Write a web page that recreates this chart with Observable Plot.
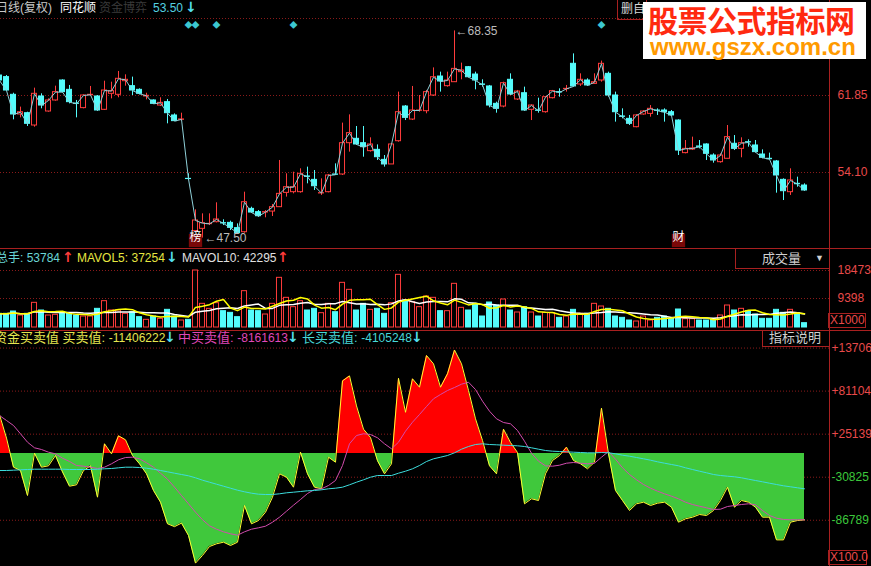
<!DOCTYPE html>
<html><head><meta charset="utf-8">
<script src="https://cdn.jsdelivr.net/npm/d3@7"></script>
<script src="https://cdn.jsdelivr.net/npm/@observablehq/plot@0.6"></script>
<style>
html,body{margin:0;padding:0;background:#000;}
#wrap{position:relative;width:871px;height:566px;overflow:hidden;background:#000;font-family:"Liberation Sans","Noto Sans CJK SC",Arial,sans-serif;}
#wrap svg{position:absolute;left:0;}
.t{position:absolute;white-space:nowrap;font-size:12px;line-height:16px;font-family:"Liberation Sans","Noto Sans CJK SC",sans-serif;}
.cj{font-size:13px;}
.ar{font-size:14px;font-weight:bold;font-family:"DejaVu Sans",sans-serif;line-height:16px;}
.box{position:absolute;border:1px solid #a82020;box-sizing:border-box;}
.ln{position:absolute;background:#a82020;}
</style></head><body><div id="wrap"></div>
<script>
// ---------- candle data (index k = trading day, left to right) ----------
const opens = [
63.86,63.70,61.92,59.94,60.07,58.83,61.75,60.24,61.35,63.36,
62.42,61.04,60.58,61.88,61.75,60.41,62.02,61.92,63.29,62.79,
62.42,61.75,61.35,60.84,61.18,59.84,59.40,53.46,48.20,48.43,
48.90,49.10,49.00,49.03,48.50,48.09,50.44,50.11,50.07,50.17,
50.61,52.05,52.12,52.12,53.70,53.36,51.99,52.12,53.90,53.90,
57.05,57.49,57.05,56.25,56.38,55.37,54.91,57.25,60.74,59.43,
60.31,60.27,61.85,63.76,62.79,63.19,64.20,64.70,63.96,62.96,
62.76,61.01,60.74,63.43,61.45,62.08,60.41,60.34,60.17,61.58,
62.19,62.49,65.04,62.96,63.36,63.02,63.36,64.03,61.85,59.74,
59.50,58.66,59.94,60.00,60.34,60.34,60.17,59.33,56.05,56.41,
56.72,56.92,55.81,55.14,55.48,56.99,56.48,57.15,56.82,55.91,
55.48,55.21,53.36,52.12,52.96,52.79];
const highs = [
64.03,63.86,62.08,60.68,60.17,62.59,62.02,61.51,62.79,63.43,
62.86,61.35,61.92,62.76,61.85,63.29,63.19,64.27,63.93,63.70,
62.52,62.08,61.41,61.62,61.45,60.00,60.07,53.97,50.34,49.94,
49.94,51.05,49.34,49.20,48.93,52.12,50.61,50.27,50.27,50.88,
55.31,53.97,54.13,54.47,54.64,54.30,53.46,53.90,54.97,59.07,
59.90,58.73,58.73,57.59,56.88,55.81,56.98,62.19,60.84,62.76,
61.85,62.36,64.63,64.20,64.20,68.35,65.11,64.77,64.20,63.43,
62.86,61.18,63.19,64.03,62.36,62.69,60.91,61.58,61.75,62.36,
62.52,62.86,66.04,64.03,63.53,64.03,65.31,64.20,62.19,60.51,
59.84,59.94,60.34,60.84,60.51,60.51,60.34,59.40,57.32,57.66,
57.32,56.99,55.98,55.98,58.83,57.82,57.59,57.39,57.32,56.38,
56.05,55.31,53.46,54.47,53.63,52.96];
const lows = [
63.19,62.29,59.40,59.60,58.73,58.66,60.51,60.17,61.28,62.12,
61.01,59.60,60.51,61.82,60.24,60.34,61.51,61.62,62.79,61.85,
61.92,61.41,60.94,60.74,59.00,59.23,59.27,53.30,48.09,47.50,
48.76,49.03,48.76,48.26,47.93,47.99,50.00,49.60,49.54,49.67,
50.61,51.62,51.95,52.02,52.96,52.29,51.79,52.05,53.80,53.80,
56.15,56.82,55.64,56.15,55.31,54.64,54.91,57.15,59.33,59.33,
60.17,60.01,61.75,62.19,62.69,63.16,63.43,63.63,62.42,62.69,
60.61,60.07,60.61,61.85,61.35,60.27,59.33,60.07,60.07,61.51,
61.68,62.19,62.69,62.76,62.76,62.96,63.19,61.68,59.17,59.50,
58.83,58.60,59.87,59.67,59.84,59.17,59.74,55.81,55.98,56.31,
56.48,55.31,55.04,55.04,55.48,56.31,55.58,56.65,56.05,55.48,
55.37,52.02,51.28,51.79,52.62,52.22];
const closes = [
63.36,62.35,59.94,60.17,59.00,62.02,60.84,61.35,62.19,62.19,
61.18,61.01,61.85,61.92,60.34,62.35,62.29,63.53,63.43,62.35,
62.02,61.82,61.01,61.11,60.07,59.27,59.44,53.44,49.27,49.00,
48.93,49.37,48.97,48.53,47.99,51.11,50.07,49.70,50.11,50.61,
51.95,52.62,52.62,53.97,53.66,52.72,52.02,53.80,53.87,57.05,
58.06,56.92,56.65,56.92,55.64,54.91,56.92,60.17,59.60,60.34,
60.34,62.19,63.69,63.26,63.36,64.53,64.37,63.69,63.36,62.92,
60.84,60.51,63.09,61.95,62.25,60.34,60.84,60.31,61.68,62.29,
62.15,62.52,62.76,63.43,62.86,63.19,65.04,61.85,60.17,59.70,
59.00,59.84,60.24,60.51,60.31,60.17,59.84,56.31,56.48,56.52,
56.68,55.98,55.31,55.81,57.66,56.48,57.05,57.12,56.15,55.58,
55.44,53.80,52.22,53.30,52.92,52.29];
// volume, thousands of shares (X1000)
const volumes = [
4429,4429,5186,3889,4429,7994,5510,3889,4105,4969,
4429,3889,3565,3565,6050,8534,5510,5510,4429,4969,
3349,2485,3565,2809,5726,3565,2269,2485,18473,7670,
6050,7886,5293,4753,3349,11775,5510,5293,4213,7670,
16096,9615,6590,8534,5510,6050,4645,7670,4969,14476,
12207,5510,7670,5726,6050,4429,7886,17069,8750,8210,
6590,10047,9615,5293,5293,14152,6374,5510,7670,3565,
8102,7130,9075,5510,4861,6590,4861,3565,4753,4645,
3133,3565,5726,4429,4429,7670,6806,6050,3565,3133,
2269,1945,3565,2269,3133,3565,2809,5834,2701,2701,
2269,2269,2593,3889,7130,5510,6050,5293,4213,2809,
2809,5726,4753,5726,4645,1404];
// 资金买卖值 indicator, thousands of axis units
const flowK = [
50.3,20.0,-17.8,-22.1,-54.6,0.4,-17.8,-16.0,-2.6,-24.0,
-42.5,-40.7,-22.1,-16.0,-56.8,12.6,-0.4,23.0,17.8,-2.6,
-13.4,-26.4,-48.1,-63.3,-91.4,-95.1,-90.5,-106.6,-142.5,-132.5,
-120.9,-117.4,-115.3,-119.6,-115.3,-67.6,-91.4,-87.1,-76.3,-56.8,
-26.4,-30.8,-43.8,1.7,-26.4,-43.8,-45.9,-4.8,-11.3,94.4,
100.9,61.9,31.6,20.8,-9.5,-26.4,-13.4,97.8,53.6,97.1,
86.2,127.4,116.6,86.2,103.6,134.5,116.6,81.9,45.1,16.9,
-16.0,-26.4,31.6,14.3,1.3,-65.4,-58.9,-61.1,-26.4,-9.1,
-2.6,8.2,-9.1,-13.4,-19.9,-11.3,58.9,-0.4,-48.1,-61.1,
-74.1,-65.4,-63.3,-67.6,-64.6,-63.3,-69.8,-89.3,-84.9,-82.8,
-79.3,-80.6,-74.1,-61.1,-43.8,-69.8,-61.1,-63.3,-69.8,-82.8,
-82.8,-112.3,-112.3,-89.3,-87.1,-86.2];
const midK = [
49.4,42.9,36.4,25.6,14.7,7.4,5.2,1.7,-0.4,-6.1,
-10.4,-15.6,-16.5,-17.8,-19.5,-17.8,-13.4,-8.2,-5.2,-4.8,
-6.9,-12.1,-17.8,-25.6,-33.4,-43.8,-54.6,-65.4,-76.3,-86.2,
-94.0,-98.4,-101.8,-104.4,-106.2,-101.8,-98.4,-96.6,-94.5,-89.3,
-82.8,-75.0,-67.2,-59.8,-52.0,-46.8,-45.9,-41.6,-35.1,-15.6,
12.6,23.4,25.6,24.7,20.4,12.6,6.1,14.7,29.0,40.7,
50.7,61.1,71.1,76.7,81.9,85.8,90.1,92.7,83.2,68.0,
55.0,45.1,40.3,38.6,29.9,16.0,0.4,-10.0,-16.0,-16.5,
-15.2,-12.6,-11.7,-12.6,-13.4,-12.6,-4.8,2.6,-7.4,-18.6,
-27.3,-34.2,-40.3,-45.1,-49.0,-52.4,-55.5,-58.9,-63.3,-66.3,
-68.5,-70.6,-72.8,-72.4,-68.9,-67.6,-66.3,-65.4,-66.7,-74.1,
-80.6,-84.1,-85.8,-86.2,-86.2,-86.2];
const longK = [
-22.1,-22.1,-21.7,-21.2,-20.8,-20.4,-20.4,-20.4,-20.4,-20.4,
-20.8,-20.8,-20.8,-20.8,-20.4,-19.9,-19.5,-18.6,-17.8,-17.8,
-18.2,-19.1,-20.4,-22.1,-23.8,-25.6,-27.3,-29.0,-31.6,-34.7,
-37.3,-39.9,-42.5,-45.1,-47.7,-49.8,-51.6,-52.9,-53.3,-53.3,
-52.4,-51.1,-50.3,-49.4,-48.5,-48.1,-47.2,-45.9,-45.1,-43.8,
-40.7,-37.3,-34.2,-30.8,-28.6,-28.6,-28.6,-25.6,-23.0,-19.9,
-15.6,-10.4,-6.9,-4.8,-2.6,0.9,5.6,9.1,11.7,12.6,
11.7,11.3,10.8,10.4,10.0,9.1,7.4,5.6,3.9,3.0,
2.6,2.2,1.7,1.3,0.9,0.9,1.3,0.9,-0.4,-2.2,
-3.5,-5.2,-6.9,-8.7,-10.8,-12.6,-14.3,-16.0,-18.6,-20.8,
-23.0,-25.1,-27.3,-28.6,-29.5,-30.3,-31.6,-33.4,-35.1,-36.8,
-38.6,-40.3,-42.0,-43.3,-44.6,-45.9];
// axis ticks and labels (the top price gridline has no visible label: it sits under the watermark)
const priceTicks = [69.60, 61.85, 54.10];
const priceTickLabels = ["", "61.85", "54.10"];
const volTicks = [18473, 9398];
const volTickLabels = ["18473", "9398"];
const flowTicks = [137068, 81104, 25139, -30825, -86789];
const flowTickLabels = ["+13706", "+81104", "+25139", "-30825", "-86789"];
// event markers (day index)
const diamondDays = [27, 28, 31, 42, 86];
const tagDays = [28, 97];
const tagLabels = ["榜", "财"];

// ---------- build ----------
const RED = "#ff3c3c", CYAN = "#54fcfc", GRID = "#8a1a1a", LBL = "#e84a4a", LGREEN = "#3cc83c";
const FONT = "Liberation Sans, Noto Sans CJK SC, sans-serif";
const candles = opens.map((o, k) => ({k, open: o, high: highs[k], low: lows[k], close: closes[k], vol: volumes[k], up: closes[k] >= o}));
const ups = candles.filter(d => d.up), downs = candles.filter(d => !d.up);
const hw = 0.36;
const lowest = d3.least(candles, d => d.low);
const highest = d3.greatest(candles, d => d.high);
const tags = tagDays.map((k, i) => ({k, label: tagLabels[i]}));
const priceLabelled = priceTicks.map((v, i) => ({v, s: priceTickLabels[i]})).filter(d => d.s);
const xDomain = [1 / 7, 830 / 7];

function panel(height, yDomain, marks) {
  return Plot.plot({
    width: 871, height, marginLeft: 0, marginRight: 42, marginTop: 0, marginBottom: 0,
    x: {type: "linear", domain: xDomain, axis: null},
    y: {type: "linear", domain: yDomain, axis: null},
    style: {background: "#000", color: "#fff", fontFamily: FONT, overflow: "visible"},
    marks
  });
}

const p1 = panel(248, [46.4507, 71.4117], [
  Plot.ruleY(priceTicks, {stroke: GRID, strokeDasharray: "1,2"}),
  Plot.ruleX(ups, {x: "k", y1: "low", y2: "high", stroke: RED, clip: true}),
  Plot.ruleX(downs, {x: "k", y1: "low", y2: "high", stroke: CYAN, clip: true}),
  Plot.rect(ups, {x1: d => d.k - hw, x2: d => d.k + hw, y1: "open", y2: "close", fill: "#000", stroke: RED, clip: true}),
  Plot.rect(downs, {x1: d => d.k - hw, x2: d => d.k + hw, y1: "open", y2: "close", fill: CYAN, stroke: CYAN, clip: true}),
  Plot.line(candles, {x: "k", y: "close", stroke: "#8fd0d8", strokeWidth: 1, clip: true}),
  Plot.text(priceLabelled, {y: "v", text: "s", frameAnchor: "right", dx: 8, textAnchor: "start", fill: LBL, fontSize: 12}),
  Plot.text([lowest], {x: "k", y: "low", text: d => "←" + d.low.toFixed(2), dx: 2, textAnchor: "start", fill: "#bcbcbc", fontSize: 12}),
  Plot.text([highest], {x: "k", y: "high", text: d => "←" + d.high.toFixed(2), dx: 1, textAnchor: "start", fill: "#bcbcbc", fontSize: 12}),
  Plot.dot(tags, {x: "k", frameAnchor: "bottom", dy: -8, symbol: "square", r: 7.5, fill: "#7a0808"}),
  Plot.text(tags, {x: "k", text: "label", frameAnchor: "bottom", dy: -8, fill: "#fff", fontSize: 12}),
  Plot.text(diamondDays, {x: d => d, text: () => "◆", frameAnchor: "top", dy: 22, fill: "#3cc8d0", fontSize: 8})
]);

const p2 = panel(82, [-972, 25604], [
  Plot.ruleY(volTicks, {stroke: GRID, strokeDasharray: "1,2"}),
  Plot.rect(ups, {x1: d => d.k - hw, x2: d => d.k + hw, y1: 0, y2: "vol", fill: "#000", stroke: RED, clip: true}),
  Plot.rect(downs, {x1: d => d.k - hw, x2: d => d.k + hw, y1: 0, y2: "vol", fill: CYAN, stroke: CYAN, clip: true}),
  Plot.lineY(candles, Plot.windowY({k: 10, anchor: "end"}, {x: "k", y: "vol", stroke: "#ffffff", clip: true})),
  Plot.lineY(candles, Plot.windowY({k: 5, anchor: "end"}, {x: "k", y: "vol", stroke: "#ffff00", clip: true})),
  Plot.text(volTicks, {y: d => d, text: (d, i) => volTickLabels[i], frameAnchor: "right", dx: 8, textAnchor: "start", fill: LBL, fontSize: 12})
]);

const flow = flowK.map((v, k) => ({k, v: v * 1000}));
const mid = midK.map((v, k) => ({k, v: v * 1000}));
const long = longK.map((v, k) => ({k, v: v * 1000}));
const flowPts = [];
flow.forEach((a, i) => {
  flowPts.push(a);
  const b = flow[i + 1];
  if (b && ((a.v > 0 && b.v < 0) || (a.v < 0 && b.v > 0))) {
    const t = a.v / (a.v - b.v);
    flowPts.push({k: a.k + t * (b.k - a.k), v: 0});
  }
});

const p3 = panel(236, [-146900, 159900], [
  Plot.ruleY(flowTicks, {stroke: GRID, strokeDasharray: "1,2"}),
  Plot.areaY(flowPts, {x: "k", y1: 0, y2: d => Math.max(0, d.v), fill: "#ff0000", clip: true}),
  Plot.areaY(flowPts, {x: "k", y1: 0, y2: d => Math.min(0, d.v), fill: "#40c83c", clip: true}),
  Plot.line(flow, {x: "k", y: "v", stroke: "#ffff30", strokeWidth: 1, clip: true}),
  Plot.line(mid, {x: "k", y: "v", stroke: "#d24cae", strokeWidth: 1, clip: true}),
  Plot.line(long, {x: "k", y: "v", stroke: "#3cdcdc", strokeWidth: 1, clip: true}),
  Plot.text(flowTicks, {y: d => d, text: (d, i) => flowTickLabels[i], frameAnchor: "right", dx: 2, textAnchor: "start", fill: d => d < 0 ? LGREEN : LBL, fontSize: 12})
]);

const wrap = document.getElementById("wrap");
p1.style.top = "0px"; p2.style.top = "248px"; p3.style.top = "330px";
wrap.append(p1, p2, p3);

const overlay = `
<div class="ln" style="left:0;top:248px;width:871px;height:1px"></div>
<div class="ln" style="left:0;top:330px;width:871px;height:1px"></div>
<div class="ln" style="left:829px;top:0;width:1px;height:566px"></div>
<span class="t" style="left:-4px;top:0px;color:#c8c8c8;font-size:12px">日线(复权)</span>
<span class="t" style="left:60px;top:0px;color:#ffffff;font-size:12px">同花顺</span>
<span class="t" style="left:99px;top:0px;color:#3a3a3a;font-size:12px">资金博弈</span>
<span class="t" style="left:153px;top:0px;color:#54d0e0">53.50</span>
<span class="t ar" style="left:185px;top:-1px;color:#54e0f0">↓</span>
<div class="box" style="left:617px;top:-1px;width:30px;height:21px"></div>
<span class="t" style="left:621px;top:1px;color:#d8d8d8;font-size:12px">删自</span>
<div style="position:absolute;left:643px;top:2px;width:223px;height:57px;background:#fff"></div>
<span class="t" style="left:648px;top:3px;font-size:30px;line-height:32px;font-weight:bold;color:#ff2a10;font-family:'Noto Sans CJK SC',sans-serif;letter-spacing:-0.5px">股票公式指标网</span>
<span class="t" style="left:650px;top:36px;font-size:24px;line-height:22px;font-weight:bold;color:#ff9a00">www.gszx.com.cn</span>
<span class="t" style="left:-4px;top:250px;color:#6ad6d6">总手: 53784</span>
<span class="t ar" style="left:62px;top:249px;color:#ff3c3c">↑</span>
<span class="t" style="left:77px;top:250px;color:#e6e640">MAVOL5: 37254</span>
<span class="t ar" style="left:166px;top:249px;color:#54e0f0">↓</span>
<span class="t" style="left:182px;top:250px;color:#e0e0e0">MAVOL10: 42295</span>
<span class="t ar" style="left:277px;top:249px;color:#ff3c3c">↑</span>
<div class="box" style="left:735px;top:248px;width:95px;height:21px;border-top:none;border-right:none"></div>
<span class="t cj" style="left:762px;top:251px;color:#d0d0d0">成交量</span>
<span class="t" style="left:815px;top:250px;color:#d0d0d0;font-size:9px">▼</span>
<div class="box" style="left:828px;top:313px;width:38px;height:15px"></div>
<span class="t" style="left:830px;top:312px;color:#e84a4a">X1000</span>
<span class="t cj" style="left:-6px;top:330px;color:#e6e650">资金买卖值 买卖值: <span style="font-size:12px">-11406222</span></span>
<span class="t ar" style="left:164px;top:329px;color:#54e0f0">↓</span>
<span class="t cj" style="left:178px;top:330px;color:#e048b8">中买卖值: <span style="font-size:12px">-8161613</span></span>
<span class="t ar" style="left:287px;top:329px;color:#54e0f0">↓</span>
<span class="t cj" style="left:302px;top:330px;color:#48d8d8">长买卖值: <span style="font-size:12px">-4105248</span></span>
<span class="t ar" style="left:411px;top:329px;color:#54e0f0">↓</span>
<div class="box" style="left:762px;top:330px;width:68px;height:17px;border-top:none;border-right:none"></div>
<span class="t cj" style="left:769px;top:330px;color:#d0d0d0">指标说明</span>
<div class="box" style="left:828px;top:550px;width:39px;height:15px"></div>
<span class="t" style="left:830px;top:549px;color:#e84a4a">X100.0</span>
`;
wrap.insertAdjacentHTML("beforeend", overlay);
</script>
</body></html>
